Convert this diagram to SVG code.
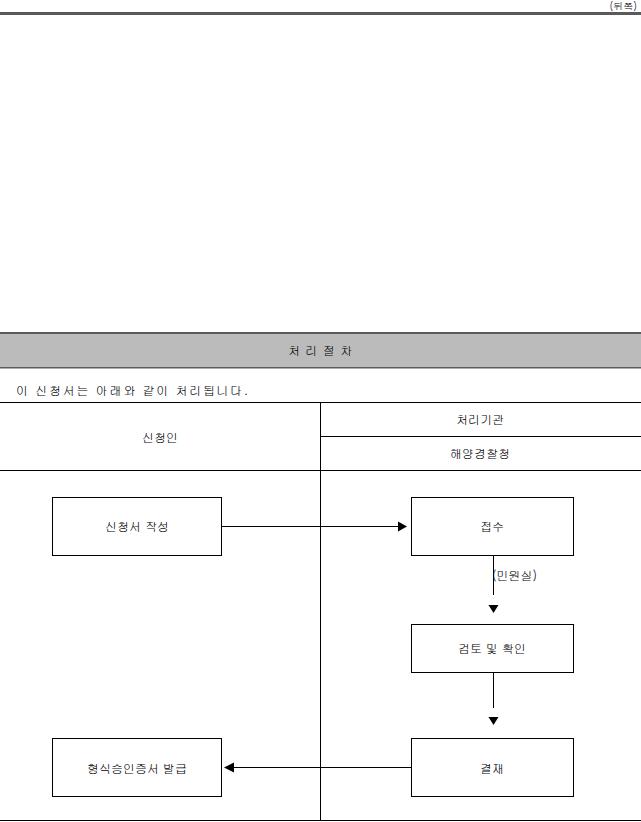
<svg xmlns="http://www.w3.org/2000/svg" width="641" height="822" viewBox="0 0 641 822">
<style>
text{font-family:"Gulim","Noto Sans CJK KR","Noto Sans",sans-serif;font-size:12px;fill:#000}
.c{text-anchor:middle;dominant-baseline:central}
.box{fill:#fff;stroke:#000;stroke-width:1}
.ln{stroke:#000;stroke-width:1;fill:none}
.ah{fill:#000;stroke:none}
</style>
<rect width="641" height="822" fill="#fff"/>
<text x="637" y="10" style="text-anchor:end;font-size:10px">(뒤쪽)</text>
<rect x="0" y="12" width="641" height="3" fill="#5a5a5a"/>
<g id="header">
<rect x="0" y="333" width="641" height="35" fill="#bbbbbb"/>
<rect x="0" y="332" width="641" height="2" fill="#5a5a5a"/>
<rect x="0" y="367" width="641" height="1.5" fill="#5a5a5a"/>
<text x="288" y="349" style="dominant-baseline:central" textLength="64" lengthAdjust="spacing">처 리 절 차</text>
</g>
<text x="16" y="389" style="dominant-baseline:central" textLength="232" lengthAdjust="spacing">이 신청서는 아래와 같이 처리됩니다.</text>
<g id="table" class="ln">
<line x1="0" y1="402.5" x2="641" y2="402.5"/>
<line x1="320.5" y1="402" x2="320.5" y2="821"/>
<line x1="320" y1="436.5" x2="641" y2="436.5"/>
<line x1="0" y1="470.5" x2="641" y2="470.5"/>
<line x1="0" y1="820.5" x2="641" y2="820.5"/>
</g>
<text x="160" y="436" class="c">신청인</text>
<text x="480" y="418" class="c">처리기관</text>
<text x="480" y="452" class="c">해양경찰청</text>
<g id="n1"><rect x="52.5" y="497.5" width="169" height="58" class="box"/><text x="137" y="525" class="c">신청서 작성</text></g>
<g id="n2"><rect x="411.5" y="497.5" width="162" height="58" class="box"/><text x="492" y="525" class="c">접수</text></g>
<g id="n3"><rect x="411.5" y="624.5" width="162" height="48" class="box"/><text x="492" y="647" class="c">검토 및 확인</text></g>
<g id="n4"><rect x="411.5" y="738.5" width="162" height="58" class="box"/><text x="492" y="767" class="c">결재</text></g>
<g id="n5"><rect x="52.5" y="738.5" width="169" height="58" class="box"/><text x="137" y="767" class="c">형식승인증서 발급</text></g>
<g id="connectors">
<line x1="221" y1="526.5" x2="398" y2="526.5" class="ln"/>
<polygon points="398,521.5 407,526.5 398,531.5" class="ah"/>
<line x1="493.5" y1="555" x2="493.5" y2="595" class="ln"/>
<text x="492" y="574" style="dominant-baseline:central">(민원실)</text>
<polygon points="488.5,605 498.5,605 493.5,613" class="ah"/>
<line x1="493.5" y1="672" x2="493.5" y2="708" class="ln"/>
<polygon points="488.5,717 498.5,717 493.5,725" class="ah"/>
<line x1="411" y1="767.5" x2="234" y2="767.5" class="ln"/>
<polygon points="234,762.5 224,767.5 234,772.5" class="ah"/>
</g>
</svg>
